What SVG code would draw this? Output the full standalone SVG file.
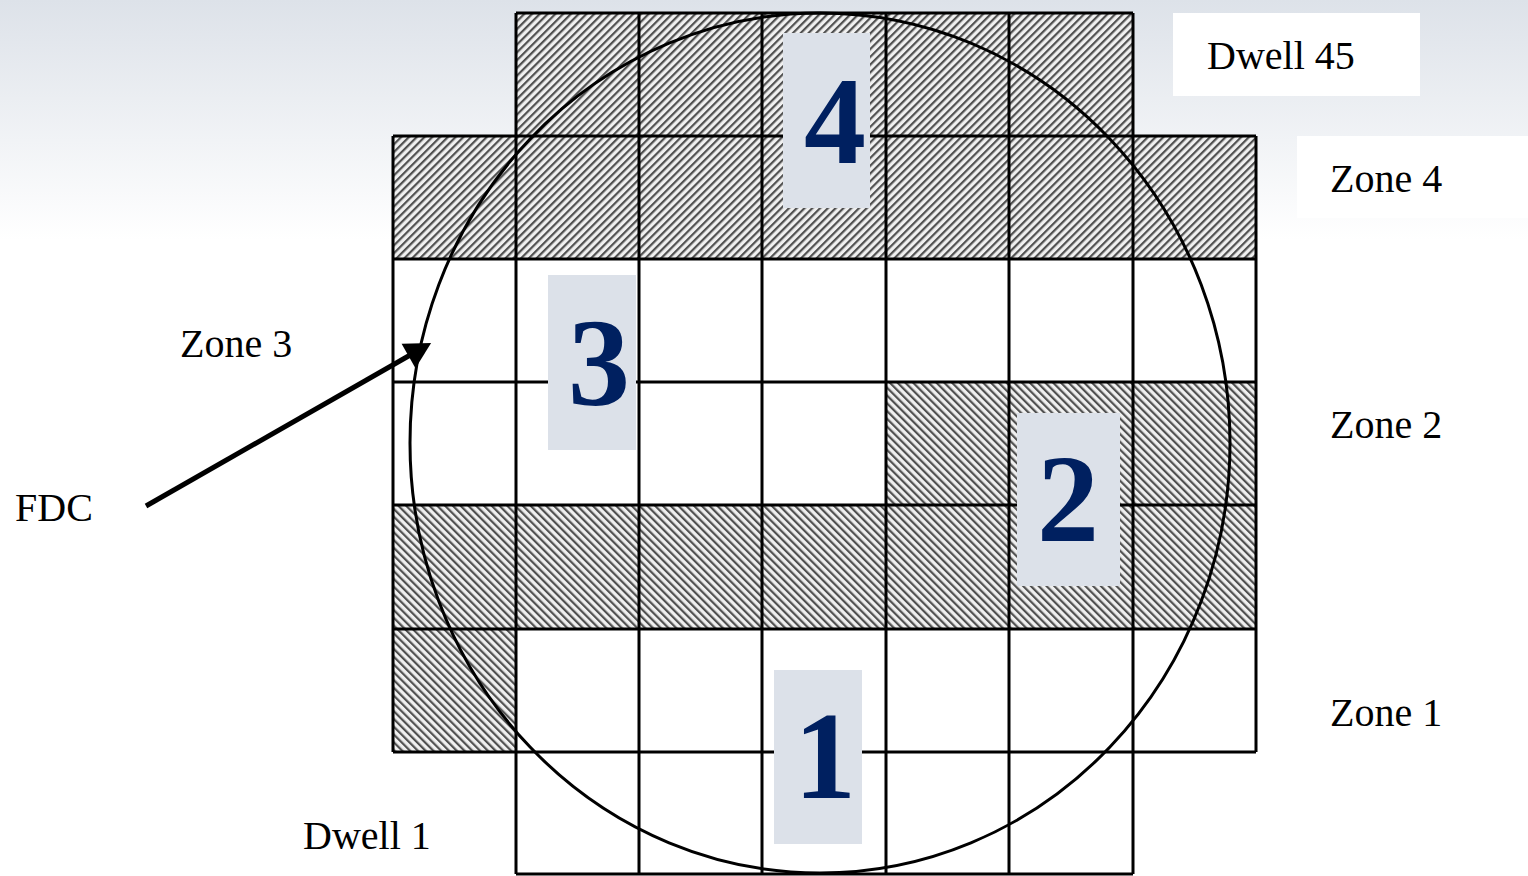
<svg xmlns="http://www.w3.org/2000/svg" width="1528" height="876" viewBox="0 0 1528 876">
<style>
.lbl{font-family:"Liberation Serif","Times New Roman",serif;font-size:40px;fill:#000}
.num{font-family:"Liberation Serif","Times New Roman",serif;font-size:124px;font-weight:bold;fill:#002060;text-anchor:middle}
.nbox{fill:#dce1e9}
.grid{stroke:#000;stroke-width:3;fill:none}
.hatchA{fill:url(#hatchA)}
.hatchB{fill:url(#hatchB)}
</style>
<defs>
<linearGradient id="bg" x1="0" y1="0" x2="0" y2="240" gradientUnits="userSpaceOnUse">
<stop offset="0" stop-color="#dde2e9"/>
<stop offset="1" stop-color="#ffffff"/>
</linearGradient>
<pattern id="hatchA" patternUnits="userSpaceOnUse" width="5.5" height="6" patternTransform="rotate(45)">
<rect width="5.5" height="6" fill="#f0f0f0"/>
<rect x="0" y="0" width="2.2" height="6" fill="#505050"/>
</pattern>
<pattern id="hatchB" patternUnits="userSpaceOnUse" width="5.5" height="6" patternTransform="rotate(-45)">
<rect width="5.5" height="6" fill="#f0f0f0"/>
<rect x="0" y="0" width="2.2" height="6" fill="#505050"/>
</pattern>
<marker id="arrowHead" markerUnits="userSpaceOnUse" markerWidth="40" markerHeight="40" refX="4" refY="14" orient="auto" overflow="visible">
<path d="M0,0 L26,14 L0,28 Z" fill="#000"/>
</marker>
</defs>
<rect x="0" y="0" width="1528" height="876" fill="url(#bg)"/>
<g id="wafer-grid">
<rect x="516" y="13" width="617" height="123" fill="#fff"/>
<rect x="393" y="136" width="863" height="616" fill="#fff"/>
<rect x="516" y="752" width="617" height="122" fill="#fff"/>
<rect class="hatchA" x="516" y="13" width="617" height="123"/>
<rect class="hatchA" x="393" y="136" width="863" height="123"/>
<rect class="hatchB" x="886" y="382" width="370" height="123"/>
<rect class="hatchB" x="393" y="505" width="863" height="124"/>
<rect class="hatchB" x="393" y="629" width="123" height="123"/>
<path class="grid" d="M516,13 H1133 M393,136 H1256 M393,259 H1256 M393,382 H1256 M393,505 H1256 M393,629 H1256 M393,752 H1256 M516,874 H1133
M393,136 V752 M516,13 V874 M639,13 V874 M762,13 V874 M886,13 V874 M1009,13 V874 M1133,13 V874 M1256,136 V752"/>
</g>
<g id="zone4-box"><rect class="nbox" x="783" y="33" width="87" height="175"/><text class="num" x="835" y="163">4</text></g>
<g id="zone3-box"><rect class="nbox" x="548" y="275" width="88" height="175"/><text class="num" x="599" y="405">3</text></g>
<g id="zone2-box"><rect class="nbox" x="1017" y="413" width="103" height="173"/><text class="num" x="1068" y="541">2</text></g>
<g id="zone1-box"><rect class="nbox" x="774" y="670" width="88" height="174"/><text class="num" x="825" y="798">1</text></g>
<g id="wafer"><ellipse cx="820" cy="443" rx="410" ry="430" fill="none" stroke="#000" stroke-width="3"/></g>
<g id="dwell45"><rect x="1173" y="13" width="247" height="83" fill="#fff"/><text class="lbl" x="1207" y="69">Dwell 45</text></g>
<g id="zone4"><rect x="1297" y="136" width="231" height="82" fill="#fff"/><text class="lbl" x="1330" y="192">Zone 4</text></g>
<g id="zone3"><text class="lbl" x="180" y="357">Zone 3</text></g>
<g id="zone2"><text class="lbl" x="1330" y="438">Zone 2</text></g>
<g id="zone1"><text class="lbl" x="1330" y="726">Zone 1</text></g>
<g id="fdc"><text class="lbl" x="15" y="521">FDC</text></g>
<g id="dwell1"><text class="lbl" x="303" y="849">Dwell 1</text></g>
<g id="connectors">
<line x1="146" y1="506" x2="412" y2="354" stroke="#000" stroke-width="5" marker-end="url(#arrowHead)"/>
</g>
</svg>
